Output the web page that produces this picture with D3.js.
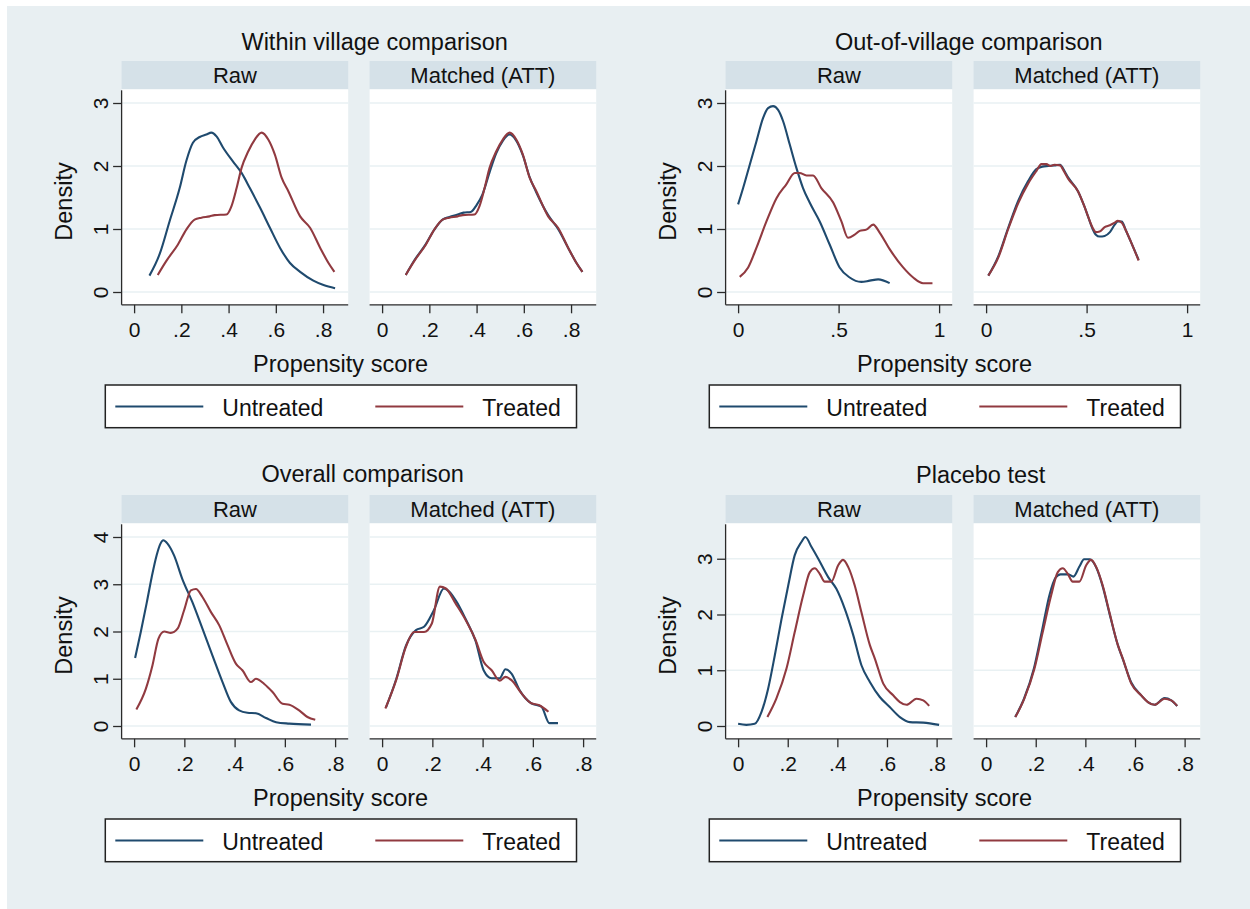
<!DOCTYPE html>
<html>
<head>
<meta charset="utf-8">
<script src="https://cdn.jsdelivr.net/npm/d3@7"></script>
<style>
  body { margin: 0; background: #ffffff; }
  svg { display: block; }
</style>
</head>
<body>
<svg id="chart" width="1250" height="909"></svg>
<script>
// density curves, [propensity score, density]

// within village
var withinRawUntreated = [[0.065,0.26],[0.108,0.60],[0.150,1.12],[0.193,1.65],[0.221,2.08],[0.249,2.37],[0.278,2.46],[0.306,2.50],[0.327,2.53],[0.349,2.47],[0.377,2.29],[0.419,2.07],[0.455,1.89],[0.490,1.65],[0.533,1.34],[0.575,1.02],[0.618,0.70],[0.660,0.46],[0.703,0.32],[0.759,0.18],[0.802,0.11],[0.851,0.06]];
var withinRawTreated = [[0.100,0.27],[0.136,0.49],[0.185,0.75],[0.221,0.99],[0.256,1.15],[0.285,1.18],[0.320,1.20],[0.341,1.22],[0.391,1.23],[0.412,1.36],[0.434,1.65],[0.455,1.97],[0.483,2.23],[0.511,2.42],[0.540,2.53],[0.568,2.42],[0.596,2.18],[0.625,1.81],[0.653,1.60],[0.703,1.20],[0.745,1.02],[0.788,0.70],[0.823,0.46],[0.848,0.32]];
var withinMatchedUntreated = [[0.100,0.27],[0.136,0.50],[0.185,0.76],[0.221,0.99],[0.256,1.15],[0.285,1.19],[0.320,1.23],[0.345,1.26],[0.375,1.27],[0.400,1.38],[0.425,1.55],[0.455,1.90],[0.483,2.20],[0.511,2.40],[0.540,2.50],[0.565,2.42],[0.596,2.17],[0.625,1.82],[0.653,1.58],[0.703,1.22],[0.745,1.00],[0.788,0.70],[0.823,0.46],[0.848,0.32]];
var withinMatchedTreated = withinRawTreated; // treated group is unchanged by ATT matching

// out of village
var outRawUntreated = [[0.0,1.39],[0.025,1.65],[0.058,2.02],[0.091,2.39],[0.124,2.76],[0.149,2.92],[0.174,2.95],[0.199,2.89],[0.224,2.71],[0.257,2.34],[0.29,1.97],[0.323,1.65],[0.356,1.42],[0.406,1.12],[0.456,0.75],[0.505,0.39],[0.555,0.23],[0.613,0.16],[0.655,0.18],[0.697,0.20],[0.754,0.14]];
var outRawTreated = [[0.008,0.24],[0.05,0.39],[0.091,0.70],[0.141,1.12],[0.191,1.49],[0.24,1.71],[0.282,1.89],[0.306,1.89],[0.34,1.85],[0.373,1.85],[0.414,1.65],[0.473,1.42],[0.514,1.12],[0.547,0.86],[0.58,0.91],[0.605,0.97],[0.638,0.99],[0.672,1.07],[0.705,0.94],[0.754,0.68],[0.821,0.39],[0.871,0.23],[0.92,0.14],[0.967,0.14]];
var outMatchedUntreated = [[0.011,0.26],[0.061,0.57],[0.11,1.02],[0.16,1.45],[0.209,1.76],[0.25,1.95],[0.28,1.99],[0.31,2.0],[0.34,2.01],[0.368,2.02],[0.39,1.92],[0.408,1.82],[0.457,1.6],[0.49,1.35],[0.507,1.2],[0.53,1.0],[0.546,0.91],[0.565,0.88],[0.59,0.89],[0.616,0.95],[0.64,1.07],[0.655,1.12],[0.675,1.12],[0.695,0.98],[0.72,0.8],[0.759,0.51]];
var outMatchedTreated = [[0.011,0.26],[0.061,0.55],[0.11,1.0],[0.16,1.41],[0.209,1.72],[0.25,1.92],[0.275,2.03],[0.30,2.03],[0.32,2.0],[0.34,2.02],[0.368,2.01],[0.39,1.9],[0.408,1.8],[0.457,1.6],[0.49,1.35],[0.507,1.2],[0.53,1.02],[0.546,0.95],[0.565,0.96],[0.59,1.03],[0.616,1.06],[0.64,1.1],[0.655,1.13],[0.675,1.1],[0.695,0.98],[0.72,0.8],[0.759,0.5]];

// overall
var overallRawUntreated = [[0.004,1.44],[0.027,2.0],[0.05,2.6],[0.07,3.15],[0.09,3.62],[0.105,3.86],[0.116,3.93],[0.133,3.86],[0.159,3.61],[0.192,3.11],[0.232,2.62],[0.272,2.06],[0.312,1.49],[0.352,0.93],[0.385,0.51],[0.418,0.33],[0.451,0.28],[0.485,0.27],[0.525,0.17],[0.565,0.08],[0.618,0.05],[0.704,0.03]];
var overallRawTreated = [[0.009,0.35],[0.047,0.79],[0.073,1.28],[0.097,1.85],[0.120,2.00],[0.146,1.97],[0.173,2.06],[0.199,2.45],[0.226,2.87],[0.246,2.90],[0.272,2.73],[0.306,2.41],[0.339,2.13],[0.372,1.71],[0.405,1.32],[0.431,1.18],[0.465,0.93],[0.485,1.00],[0.518,0.89],[0.551,0.72],[0.591,0.47],[0.618,0.45],[0.657,0.33],[0.690,0.19],[0.721,0.13]];
var overallMatchedUntreated = [[0.016,0.40],[0.056,0.99],[0.095,1.70],[0.135,2.03],[0.167,2.10],[0.206,2.45],[0.246,2.91],[0.293,2.66],[0.333,2.26],[0.372,1.80],[0.404,1.18],[0.436,1.01],[0.468,1.01],[0.491,1.20],[0.515,1.11],[0.547,0.76],[0.594,0.48],[0.634,0.41],[0.666,0.06],[0.700,0.06]];
var overallMatchedTreated = [[0.013,0.37],[0.056,0.97],[0.095,1.68],[0.127,1.99],[0.167,1.99],[0.198,2.17],[0.230,2.95],[0.254,2.91],[0.293,2.59],[0.333,2.24],[0.372,1.82],[0.404,1.36],[0.436,1.18],[0.468,0.96],[0.491,1.04],[0.515,0.97],[0.555,0.69],[0.594,0.48],[0.626,0.44],[0.662,0.30]];

// placebo
var placeboRawUntreated = [[0.0,0.04],[0.033,0.02],[0.067,0.04],[0.094,0.25],[0.121,0.67],[0.148,1.27],[0.175,1.92],[0.202,2.52],[0.228,3.06],[0.255,3.30],[0.271,3.39],[0.296,3.21],[0.323,3.00],[0.363,2.67],[0.396,2.46],[0.43,2.10],[0.464,1.63],[0.497,1.09],[0.531,0.79],[0.571,0.52],[0.611,0.34],[0.652,0.16],[0.692,0.07],[0.746,0.06],[0.81,0.02]];
var placeboRawTreated = [[0.118,0.16],[0.154,0.49],[0.195,1.03],[0.228,1.68],[0.262,2.34],[0.289,2.76],[0.309,2.83],[0.329,2.73],[0.349,2.59],[0.376,2.59],[0.403,2.88],[0.423,2.98],[0.444,2.85],[0.470,2.52],[0.497,2.04],[0.531,1.45],[0.551,1.21],[0.585,0.76],[0.625,0.55],[0.652,0.43],[0.679,0.38],[0.719,0.49],[0.746,0.46],[0.77,0.36]];
var placeboMatchedUntreated = [[0.117,0.16],[0.152,0.48],[0.192,1.02],[0.224,1.68],[0.256,2.36],[0.28,2.66],[0.30,2.72],[0.33,2.72],[0.352,2.68],[0.376,2.86],[0.395,2.99],[0.418,2.99],[0.444,2.84],[0.470,2.50],[0.497,2.02],[0.531,1.45],[0.551,1.20],[0.585,0.78],[0.625,0.55],[0.652,0.43],[0.679,0.38],[0.719,0.50],[0.746,0.46],[0.77,0.36]];
var placeboMatchedTreated = placeboRawTreated;

// ticks and labels
var xTicksEight = [0, 0.2, 0.4, 0.6, 0.8];
var xLabelsEight = ["0", ".2", ".4", ".6", ".8"];
var xTicksOne = [0, 0.5, 1];
var xLabelsOne = ["0", ".5", "1"];
var yTicksThree = [0, 1, 2, 3];
var yTicksFour = [0, 1, 2, 3, 4];
var stripLabels = ["Raw", "Matched (ATT)"];
var legendLabels = ["Untreated", "Treated"];
var xTitle = "Propensity score";
var yTitle = "Density";

/* layout of the four graphs: L = left edge of the Raw frame, T = top of the strips */
var panels = [
	{ title: "Within village comparison", titleX: 374.7, titleY: 50, L: 121.6, T: 61,
	  xTicks: xTicksEight, xLabels: xLabelsEight, yTicks: yTicksThree,
	  raw: [withinRawUntreated, withinRawTreated], matched: [withinMatchedUntreated, withinMatchedTreated] },
	{ title: "Out-of-village comparison", titleX: 968.8, titleY: 50, L: 725.6, T: 61,
	  xTicks: xTicksOne, xLabels: xLabelsOne, yTicks: yTicksThree,
	  raw: [outRawUntreated, outRawTreated], matched: [outMatchedUntreated, outMatchedTreated] },
	{ title: "Overall comparison", titleX: 362.7, titleY: 482, L: 121.6, T: 495,
	  xTicks: xTicksEight, xLabels: xLabelsEight, yTicks: yTicksFour,
	  raw: [overallRawUntreated, overallRawTreated], matched: [overallMatchedUntreated, overallMatchedTreated] },
	{ title: "Placebo test", titleX: 980.7, titleY: 483, L: 725.6, T: 495,
	  xTicks: xTicksEight, xLabels: xLabelsEight, yTicks: yTicksThree,
	  raw: [placeboRawUntreated, placeboRawTreated], matched: [placeboMatchedUntreated, placeboMatchedTreated] }
];

var FONT = "'Liberation Sans', Arial, Helvetica, sans-serif";
var colors = ["#1f4a6e", "#913a40"];
var bgColor = "#e8eff2";
var stripColor = "#d5e1e8";
var gridColor = "#e9f1f3";
var axisColor = "#2a2a2a";
var textColor = "#111111";

var frameW = 226.6;     // width of one facet
var facetGap = 248;     // offset of the Matched facet
var stripH = 28.3;
var axisY = 243.8;      // x axis line below T

var svg = d3.select("#chart");

svg.append("rect")
	.attr("x", 7).attr("y", 6)
	.attr("width", 1250 - 7).attr("height", 909 - 6)
	.attr("fill", bgColor);

function drawPanel(p) {
	var g = svg.append("g");
	var all = p.raw.concat(p.matched);
	var xmax = Math.max(p.xTicks[p.xTicks.length - 1], d3.max(all, function(s) { return d3.max(s, function(d) { return d[0]; }); }));
	var ymax = Math.max(p.yTicks[p.yTicks.length - 1], d3.max(all, function(s) { return d3.max(s, function(d) { return d[1]; }); }));

	var y = d3.scaleLinear().domain([0, ymax]).range([p.T + 231, p.T + 42]);

	// title
	g.append("text")
		.attr("x", p.titleX).attr("y", p.titleY)
		.attr("text-anchor", "middle")
		.style("font-family", FONT).style("font-size", "23.5px").attr("fill", textColor)
		.text(p.title);

	[p.raw, p.matched].forEach(function(series, i) {
		var left = p.L + i * facetGap;
		var x = d3.scaleLinear().domain([0, xmax]).range([left + 12.5, left + 213.5]);

		// strip
		g.append("rect")
			.attr("x", left).attr("y", p.T)
			.attr("width", frameW).attr("height", stripH)
			.attr("fill", stripColor);
		g.append("text")
			.attr("x", left + frameW / 2).attr("y", p.T + stripH - 6)
			.attr("text-anchor", "middle")
			.style("font-family", FONT).style("font-size", "22px").attr("fill", textColor)
			.text(stripLabels[i]);

		// plot region
		g.append("rect")
			.attr("x", left).attr("y", p.T + stripH)
			.attr("width", frameW).attr("height", axisY - stripH)
			.attr("fill", "#ffffff");

		// grid lines
		g.selectAll(null)
			.data(p.yTicks)
			.enter().append("line")
			.attr("x1", left).attr("x2", left + frameW)
			.attr("y1", function(d) { return y(d); })
			.attr("y2", function(d) { return y(d); })
			.attr("stroke", gridColor).attr("stroke-width", 1.6);

		// curves, untreated first
		var line = d3.line()
			.x(function(d) { return x(d[0]); })
			.y(function(d) { return y(d[1]); })
			.curve(d3.curveMonotoneX);
		series.forEach(function(s, k) {
			g.append("path")
				.datum(s)
				.attr("d", line)
				.attr("fill", "none")
				.attr("stroke", colors[k])
				.attr("stroke-width", 2.1)
				.attr("stroke-linejoin", "round");
		});

		// x axis
		var xa = g.append("g")
			.attr("transform", "translate(0," + (p.T + axisY) + ")")
			.call(d3.axisBottom(x)
				.tickValues(p.xTicks)
				.tickFormat(function(d, j) { return p.xLabels[j]; })
				.tickSize(8.5).tickSizeOuter(0).tickPadding(5));
		xa.select(".domain").remove();
		xa.selectAll(".tick line").attr("stroke", axisColor).attr("stroke-width", 1.3);
		xa.selectAll(".tick text")
			.attr("y", 32).attr("dy", 0)
			.style("font-family", FONT).style("font-size", "21px").attr("fill", textColor);
		g.append("line")
			.attr("x1", left).attr("x2", left + frameW)
			.attr("y1", p.T + axisY).attr("y2", p.T + axisY)
			.attr("stroke", axisColor).attr("stroke-width", 1.3);

		// y axis only on the Raw facet
		if (i === 0) {
			var ya = g.append("g")
				.attr("transform", "translate(" + left + ",0)")
				.call(d3.axisLeft(y).tickValues(p.yTicks).tickFormat(d3.format("d")).tickSize(8.5).tickSizeOuter(0));
			ya.select(".domain").remove();
			ya.selectAll(".tick line").attr("stroke", axisColor).attr("stroke-width", 1.3);
			ya.selectAll(".tick text")
				.attr("transform", "rotate(-90)")
				.attr("x", 0).attr("y", -13.6).attr("dy", 0)
				.attr("text-anchor", "middle")
				.style("font-family", FONT).style("font-size", "21px").attr("fill", textColor);
			g.append("line")
				.attr("x1", left).attr("x2", left)
				.attr("y1", p.T + stripH + 1).attr("y2", p.T + axisY)
				.attr("stroke", axisColor).attr("stroke-width", 1.3);
		}
	});

	// axis titles
	g.append("text")
		.attr("x", p.L + 219).attr("y", p.T + 310.5)
		.attr("text-anchor", "middle")
		.style("font-family", FONT).style("font-size", "23.5px").attr("fill", textColor)
		.text(xTitle);
	g.append("text")
		.attr("transform", "translate(" + (p.L - 50) + "," + (p.T + 140.5) + ") rotate(-90)")
		.attr("text-anchor", "middle")
		.style("font-family", FONT).style("font-size", "23.5px").attr("fill", textColor)
		.text(yTitle);

	// legend
	var lx = p.L - 16.3, ly = p.T + 324;
	g.append("rect")
		.attr("x", lx).attr("y", ly)
		.attr("width", 471.2).attr("height", 42.7)
		.attr("fill", "#ffffff").attr("stroke", "#222222").attr("stroke-width", 1.5);
	legendLabels.forEach(function(lab, k) {
		var off = k * 260;
		g.append("line")
			.attr("x1", lx + 10 + off).attr("x2", lx + 98 + off)
			.attr("y1", ly + 21.5).attr("y2", ly + 21.5)
			.attr("stroke", colors[k]).attr("stroke-width", 2.1);
		g.append("text")
			.attr("x", lx + 117 + off).attr("y", ly + 30.5)
			.style("font-family", FONT).style("font-size", "23px").attr("fill", textColor)
			.text(lab);
	});
}

panels.forEach(drawPanel);
</script>
</body>
</html>
